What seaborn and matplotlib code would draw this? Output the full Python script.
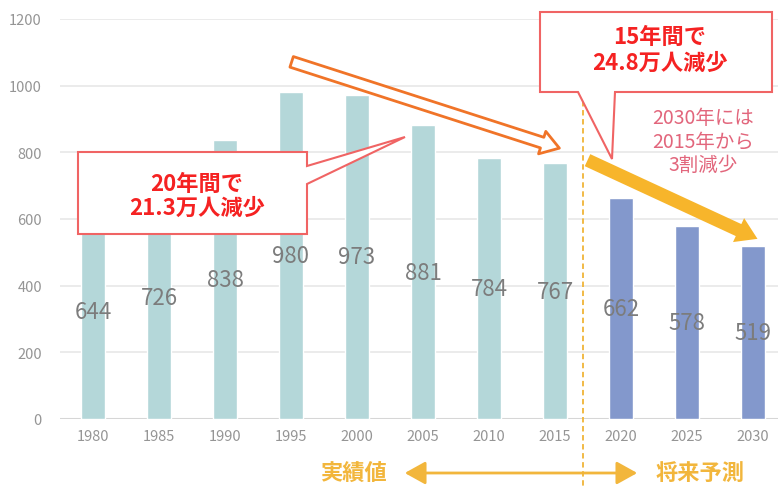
import matplotlib
matplotlib.use("Agg")
import matplotlib.pyplot as plt
import seaborn as sns
from matplotlib.patches import Polygon, FancyArrowPatch
from matplotlib.lines import Line2D
from matplotlib.transforms import Affine2D

# --- データ ---
years = ['1980', '1985', '1990', '1995', '2000', '2005', '2010', '2015', '2020', '2025', '2030']
population = [644, 726, 838, 980, 973, 881, 784, 767, 662, 578, 519]
kinds = ['実績値'] * 8 + ['将来予測'] * 3
palette = {'実績値': '#b4d7d9', '将来予測': '#8398cc'}
y_ticks = [0, 200, 400, 600, 800, 1000, 1200]

sns.set_theme(style="white")
plt.rcParams['font.family'] = ['Noto Sans CJK JP', 'DejaVu Sans']

W, H = 778, 489
fig = plt.figure(figsize=(W / 100, H / 100), dpi=100)
ax = fig.add_axes([60 / W, (H - 420) / H, (W - 60) / W, 400 / H])

sns.barplot(x=years, y=population, hue=kinds, palette=palette, dodge=False,
            width=0.37, saturation=1, legend=False, ax=ax, zorder=2)

for c in ax.containers:
    ax.bar_label(c, fmt='%d', label_type='center', color='#7c7c7c', fontsize=16)

ax.set_xlim(-0.5, 10.38)
ax.set_ylim(0, 1200)
ax.set_yticks(y_ticks)
ax.yaxis.grid(True, color='#e8e8e8', linewidth=1.2, zorder=0)
ax.axhline(0, color='#d6d6d6', linewidth=1.5, zorder=1)
ax.tick_params(axis='both', length=0, colors='#959595')
ax.tick_params(axis='x', pad=7, labelsize=10.5)
ax.tick_params(axis='y', pad=13, labelsize=10.5)
for s in ax.spines.values():
    s.set_visible(False)
ax.set_xlabel('')
ax.set_ylabel('')

# 画像ピクセル座標（左上原点）
px = Affine2D().scale(1 / W, -1 / H).translate(0, 1) + fig.transFigure

# 実績/予測の境界線
fig.add_artist(Line2D([583, 583], [93, 489], transform=px, color='#f0b437',
                      linestyle=(0, (3, 2)), linewidth=1.3, zorder=3))

# 大きな白抜き矢印
fig.add_artist(FancyArrowPatch((289, 62), (562, 150), transform=px,
                               arrowstyle='simple,head_length=13,head_width=17,tail_width=8',
                               mutation_scale=1, facecolor='white', edgecolor='#f07428',
                               linewidth=2, zorder=4))

# 黄色の矢印
fig.add_artist(FancyArrowPatch((585, 160), (760, 241), transform=px,
                               arrowstyle='simple,head_length=15,head_width=19,tail_width=9.5',
                               mutation_scale=1, color='#f7b52b', linewidth=0, zorder=4))

# 吹き出し1
box1 = [(78, 153), (307, 153), (307, 167), (405, 138), (307, 185), (307, 235), (78, 235)]
fig.add_artist(Polygon(box1, closed=True, transform=px, facecolor='white',
                       edgecolor='#f06464', linewidth=1.5, zorder=5))
fig.text(197, 196, '20年間で\n21.3万人減少', transform=px, ha='center', va='center',
         color='#f52222', fontsize=16, fontweight='bold', linespacing=1.05, zorder=6)

# 吹き出し2
box2 = [(540, 13), (772, 13), (772, 93), (615, 93), (612, 160), (578, 93), (540, 93)]
fig.add_artist(Polygon(box2, closed=True, transform=px, facecolor='white',
                       edgecolor='#f06464', linewidth=1.5, zorder=5))
fig.text(660, 50, '15年間で\n24.8万人減少', transform=px, ha='center', va='center',
         color='#f52222', fontsize=16, fontweight='bold', linespacing=1.15, zorder=6)

fig.text(703, 142, '2030年には\n2015年から\n3割減少', transform=px, ha='center', va='center',
         color='#e2667c', fontsize=14, linespacing=1.15, zorder=6)

# 下部の注記
fig.text(353, 473, '実績値', transform=px, ha='center', va='center',
         color='#f2b63c', fontsize=16, fontweight='bold')
fig.text(700, 473, '将来予測', transform=px, ha='center', va='center',
         color='#f2b63c', fontsize=16, fontweight='bold')
fig.add_artist(FancyArrowPatch((402, 474), (640, 474), transform=px,
                               arrowstyle='<|-|>,head_length=0.9,head_width=0.5',
                               mutation_scale=14, color='#f2b63c', linewidth=2))

fig.savefig('out.png', dpi=100)
